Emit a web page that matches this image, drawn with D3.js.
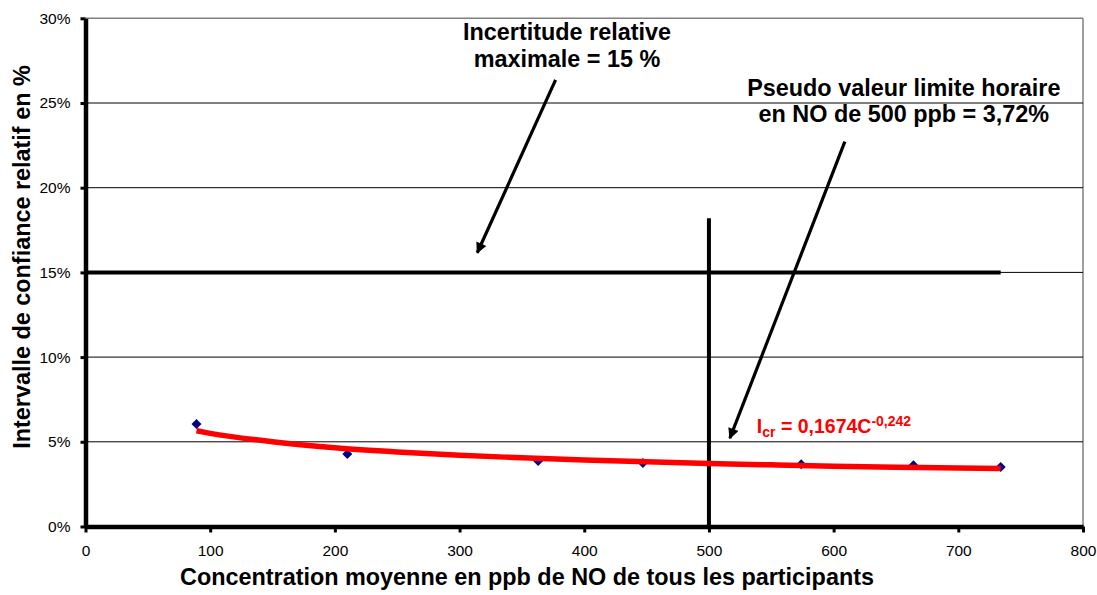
<!DOCTYPE html>
<html>
<head>
<meta charset="utf-8">
<script src="https://cdn.jsdelivr.net/npm/d3@7"></script>
<style>
  body { margin: 0; background: #fff; }
  svg { display: block; font-family: "Liberation Sans", Arial, sans-serif; }
</style>
</head>
<body>
<div id="chart"></div>
<script>
// Measured points (concentration in ppb, relative uncertainty in %)
const concentrations = [89, 210, 363, 447, 574, 664, 734];
const incertitudes = [6.05, 4.28, 3.87, 3.75, 3.67, 3.61, 3.51];

// Power trend line
const trendX = [89, 100, 150, 200, 250, 300, 350, 400, 450, 500, 550, 600, 650, 700, 734];
const trendY = [5.65, 5.5, 5.0, 4.65, 4.4, 4.2, 4.06, 3.93, 3.82, 3.72, 3.64, 3.56, 3.5, 3.45, 3.42];

// Axis ticks
const xTicks = [0, 100, 200, 300, 400, 500, 600, 700, 800];
const yTicks = [0, 5, 10, 15, 20, 25, 30];

// Reference lines
const maxUncertainty = 15;       // horizontal limit, drawn from 0 to the last point
const hourlyLimit = 500;         // vertical line at 500 ppb
const hourlyLimitTop = 18.2;

const width = 1097;
const height = 595;
const margin = { top: 18.3, right: 14, bottom: 68.5, left: 85.5 };
const titleSize = '23.4px';

const svg = d3.select('#chart')
    .append('svg')
    .attr('width', width)
    .attr('height', height);

const x = d3.scaleLinear()
    .domain([0, 800])
    .range([margin.left, width - margin.right]);

const y = d3.scaleLinear()
    .domain([0, 30])
    .range([height - margin.bottom, margin.top]);

// Plot area border (grey, top and right)
svg.append('line')
    .attr('x1', x(0)).attr('x2', x(800))
    .attr('y1', y(30)).attr('y2', y(30))
    .attr('stroke', '#808080')
    .attr('stroke-width', 1.5);
svg.append('line')
    .attr('x1', x(800)).attr('x2', x(800))
    .attr('y1', y(30)).attr('y2', y(0))
    .attr('stroke', '#808080')
    .attr('stroke-width', 1.5);

// Horizontal gridlines
svg.append('g')
    .selectAll('line')
    .data(yTicks.filter(d => d > 0 && d < 30))
    .enter()
    .append('line')
    .attr('x1', x(0))
    .attr('x2', x(800))
    .attr('y1', d => y(d))
    .attr('y2', d => y(d))
    .attr('stroke', '#000')
    .attr('stroke-width', 1);

// Axes
const yAxis = svg.append('g')
    .attr('transform', `translate(${x(0)},0)`)
    .call(d3.axisLeft(y).tickValues(yTicks).tickSize(5).tickSizeOuter(0).tickPadding(10)
        .tickFormat(d => d + '%'));

const xAxis = svg.append('g')
    .attr('transform', `translate(0,${y(0)})`)
    .call(d3.axisBottom(x).tickValues(xTicks).tickSize(6).tickSizeOuter(0).tickPadding(12));

[yAxis, xAxis].forEach(ax => {
    ax.select('.domain').attr('stroke', '#000').attr('stroke-width', 4.5);
    ax.selectAll('.tick line').attr('stroke', '#000').attr('stroke-width', 3);
    ax.selectAll('.tick text')
        .attr('fill', '#000')
        .style('font-size', '15.5px')
        .style('font-family', '"Liberation Sans", Arial, sans-serif');
});

// Reference lines
svg.append('line')
    .attr('x1', x(0)).attr('x2', x(d3.max(concentrations)))
    .attr('y1', y(maxUncertainty)).attr('y2', y(maxUncertainty))
    .attr('stroke', '#000')
    .attr('stroke-width', 4);

svg.append('line')
    .attr('x1', x(hourlyLimit)).attr('x2', x(hourlyLimit))
    .attr('y1', y(hourlyLimitTop)).attr('y2', y(0))
    .attr('stroke', '#000')
    .attr('stroke-width', 4);

// Data points (navy diamonds)
svg.append('g')
    .selectAll('path')
    .data(concentrations.map((c, i) => [c, incertitudes[i]]))
    .enter()
    .append('path')
    .attr('d', d3.symbol().type(d3.symbolSquare).size(50))
    .attr('transform', d => `translate(${x(d[0])},${y(d[1])}) rotate(45)`)
    .attr('fill', '#000080');

// Trend line
const trendLine = d3.line()
    .x(d => x(d[0]))
    .y(d => y(d[1]))
    .curve(d3.curveMonotoneX);

svg.append('path')
    .datum(trendX.map((c, i) => [c, trendY[i]]))
    .attr('d', trendLine)
    .attr('fill', 'none')
    .attr('stroke', '#ff0000')
    .attr('stroke-width', 5.5);

// Arrows
svg.append('defs')
    .append('marker')
    .attr('id', 'arrow')
    .attr('viewBox', '0 0 10 10')
    .attr('refX', 9)
    .attr('refY', 5)
    .attr('markerWidth', 4.2)
    .attr('markerHeight', 3.4)
    .attr('markerUnits', 'strokeWidth')
    .attr('orient', 'auto')
    .append('path')
    .attr('d', 'M0,0L10,5L0,10Z')
    .attr('fill', '#000');

const arrows = [
    { from: [377, 26.36], to: [314.2, 16.16] },
    { from: [609, 22.72], to: [516.8, 5.21] }
];

svg.append('g')
    .selectAll('line')
    .data(arrows)
    .enter()
    .append('line')
    .attr('x1', d => x(d.from[0]))
    .attr('y1', d => y(d.from[1]))
    .attr('x2', d => x(d.to[0]))
    .attr('y2', d => y(d.to[1]))
    .attr('stroke', '#000')
    .attr('stroke-width', 3.2)
    .attr('marker-end', 'url(#arrow)');

// Annotation texts
const notes = [
    { x: 386.2, y: 28.72, text: 'Incertitude relative' },
    { x: 386.2, y: 27.13, text: 'maximale = 15 %' },
    { x: 656.3, y: 25.41, text: 'Pseudo valeur limite horaire' },
    { x: 656.3, y: 23.88, text: 'en NO de 500 ppb = 3,72%' }
];

svg.append('g')
    .selectAll('text')
    .data(notes)
    .enter()
    .append('text')
    .attr('x', d => x(d.x))
    .attr('y', d => y(d.y))
    .attr('text-anchor', 'middle')
    .style('font-size', titleSize)
    .style('font-weight', 'bold')
    .text(d => d.text);

// Trend equation
const eq = svg.append('text')
    .attr('x', x(538.4))
    .attr('y', y(5.52))
    .attr('fill', '#ff0000')
    .style('font-size', '19.5px')
    .style('font-weight', 'bold');
eq.append('tspan').text('I');
eq.append('tspan').attr('dy', 4).style('font-size', '14px').text('cr');
eq.append('tspan').attr('dy', -4).text(' = 0,1674C');
eq.append('tspan').attr('dy', -7).style('font-size', '14px').text('-0,242');

// Axis titles
svg.append('text')
    .attr('x', 527)
    .attr('y', 585)
    .attr('text-anchor', 'middle')
    .style('font-size', titleSize)
    .style('font-weight', 'bold')
    .text('Concentration moyenne en ppb de NO de tous les participants');

svg.append('text')
    .attr('transform', `translate(30,257) rotate(-90)`)
    .attr('text-anchor', 'middle')
    .style('font-size', titleSize)
    .style('font-weight', 'bold')
    .text('Intervalle de confiance relatif en %');
</script>
</body>
</html>
